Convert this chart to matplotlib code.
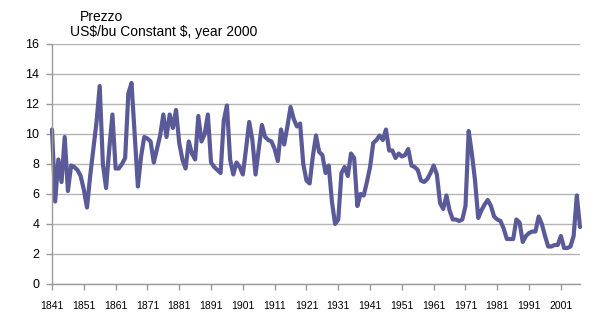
import numpy as np
import matplotlib
matplotlib.use('Agg')
import matplotlib.pyplot as plt

# wheat price, US$/bu constant 2000 dollars, one value per year
years = list(range(1841, 2008))
prices = [
    10.3, 5.5, 8.3, 6.8, 9.8, 6.2, 7.9, 7.8, 7.6, 7.2,   # 1841-1850
    6.3, 5.1, 7.2, 9.0, 10.8, 13.2, 8.0, 6.4, 9.0, 11.3,  # 1851-1860
    7.7, 7.7, 8.0, 8.4, 12.7, 13.4, 10.0, 6.5, 8.5, 9.8,  # 1861-1870
    9.7, 9.5, 8.1, 9.0, 9.9, 11.3, 9.8, 11.3, 10.4, 11.6, # 1871-1880
    9.4, 8.3, 7.7, 9.5, 8.7, 8.3, 11.2, 9.5, 10.0, 11.3,  # 1881-1890
    8.1, 7.8, 7.6, 7.4, 10.9, 11.9, 8.3, 7.3, 8.1, 7.8,   # 1891-1900
    7.3, 9.0, 10.8, 9.6, 7.3, 9.0, 10.6, 9.8, 9.6, 9.5,   # 1901-1910
    9.0, 8.2, 10.3, 9.3, 10.5, 11.8, 11.0, 10.5, 10.7, 8.0, # 1911-1920
    6.9, 6.7, 8.5, 9.9, 8.8, 8.6, 7.4, 7.9, 5.5, 4.0,     # 1921-1930
    4.3, 7.4, 7.8, 7.2, 8.7, 8.4, 5.2, 6.0, 5.9, 6.8,     # 1931-1940
    7.8, 9.4, 9.6, 9.9, 9.6, 10.3, 8.9, 8.9, 8.4, 8.7,    # 1941-1950
    8.5, 8.6, 9.0, 7.9, 7.8, 7.6, 6.9, 6.8, 7.0, 7.4,     # 1951-1960
    7.9, 7.3, 5.4, 5.0, 5.9, 4.9, 4.3, 4.3, 4.2, 4.3,     # 1961-1970
    5.2, 10.2, 8.7, 6.9, 4.4, 4.9, 5.3, 5.6, 5.2, 4.5,    # 1971-1980
    4.3, 4.2, 3.7, 3.0, 3.0, 3.0, 4.3, 4.1, 2.8, 3.2,     # 1981-1990
    3.4, 3.5, 3.5, 4.5, 4.0, 3.2, 2.5, 2.5, 2.6, 2.6,     # 1991-2000
    3.2, 2.4, 2.4, 2.5, 3.2, 5.9, 3.8,                    # 2001-2007
]
tick_years = list(range(1841, 2002, 10))
y_ticks = list(range(0, 17, 2))

plt.rcParams['font.family'] = ['Liberation Sans', 'DejaVu Sans']

fig = plt.figure(figsize=(6.0, 3.28), dpi=100)
ax = fig.add_axes([52 / 600, 44 / 328, 528 / 600, 240 / 328])

ax.plot(years, prices, color='#5a5a98', linewidth=3.0,
        solid_joinstyle='round', solid_capstyle='round', clip_on=False)

ax.set_xlim(1841, 2007)
ax.set_ylim(0, 16)
ax.set_xticks(tick_years)
ax.set_xticklabels([str(y) for y in tick_years], fontsize=7.5)
ax.set_yticks(y_ticks)
ax.set_yticklabels([str(v) for v in y_ticks], fontsize=9)

ax.grid(axis='y', color='#b4b4b4', linewidth=1.0)
ax.set_axisbelow(True)
for side in ['top', 'right']:
    ax.spines[side].set_visible(False)
for side in ['left', 'bottom']:
    ax.spines[side].set_color('#9a9a9a')
    ax.spines[side].set_linewidth(1.0)
ax.tick_params(axis='both', colors='#9a9a9a', length=4, width=1.0, labelcolor='black')
ax.tick_params(axis='x', pad=8)
ax.tick_params(axis='y', pad=5)

fig.text(80 / 600, 1 - 17 / 328, 'Prezzo', fontsize=10, va='center', ha='left')
fig.text(70 / 600, 1 - 32 / 328, r'US\$/bu Constant \$, year 2000', fontsize=10,
         va='center', ha='left')

fig.savefig('out.png', dpi=100)
